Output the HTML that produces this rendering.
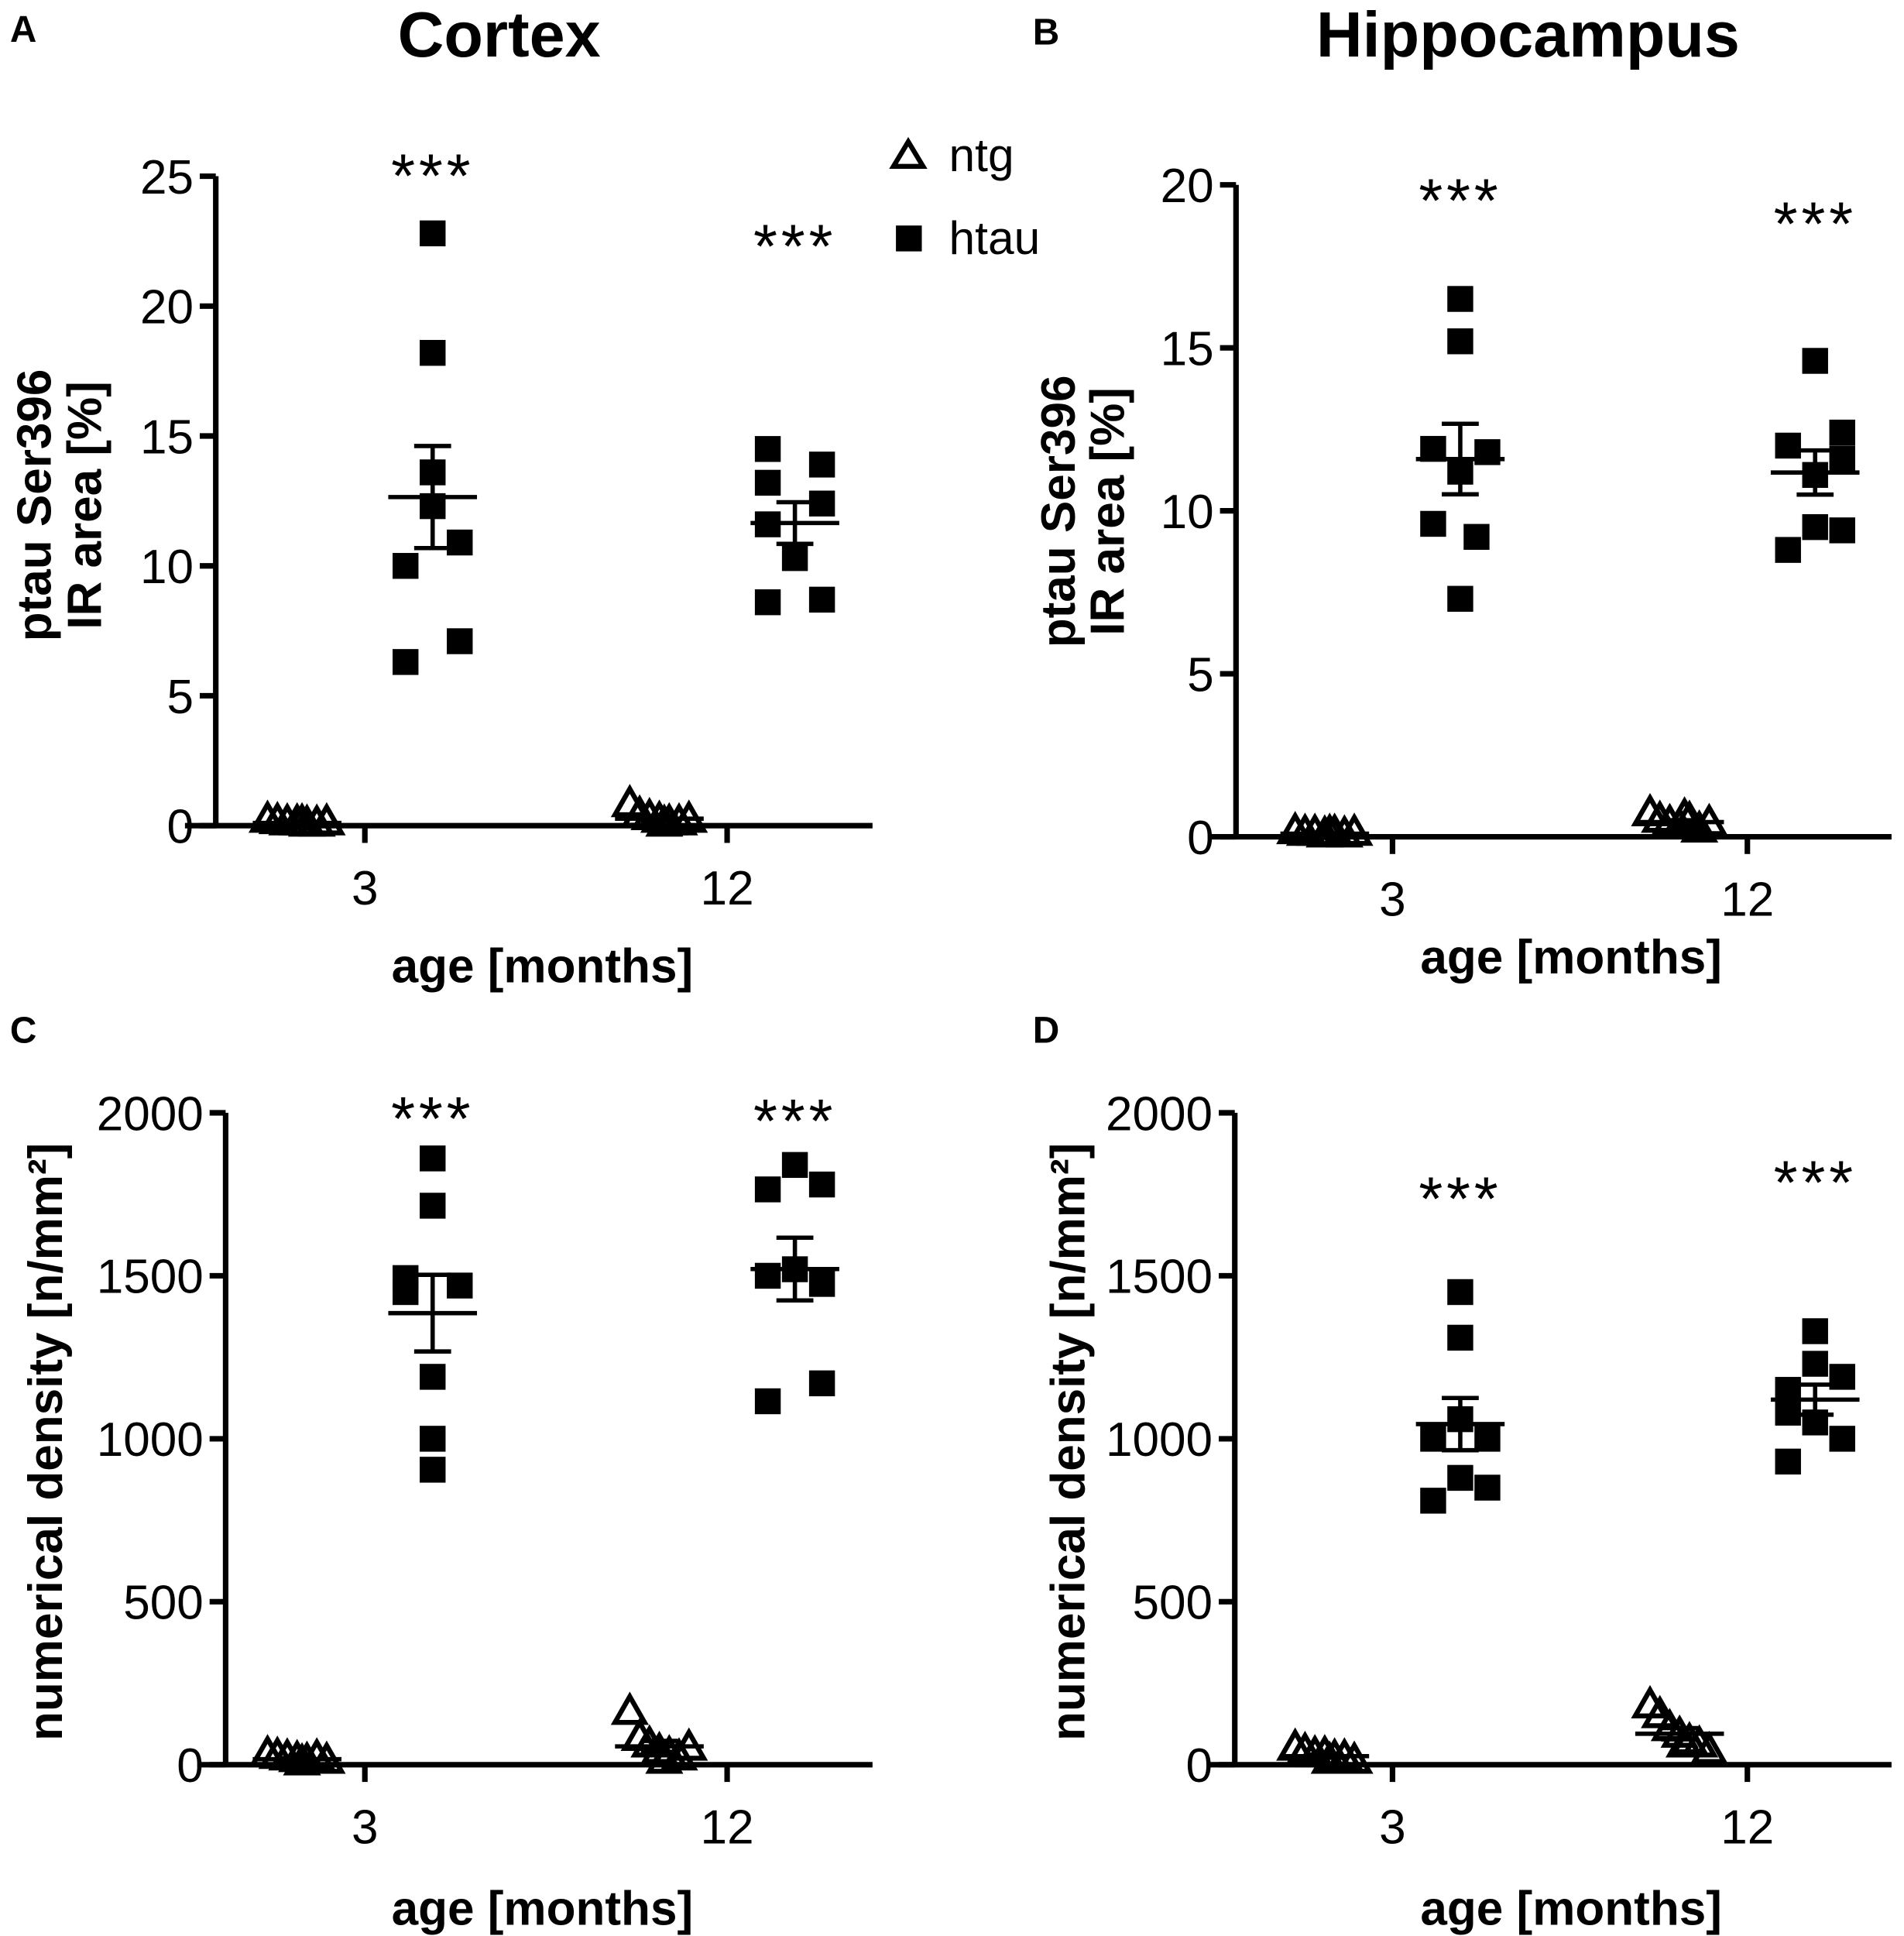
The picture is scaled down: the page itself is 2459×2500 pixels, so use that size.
<!DOCTYPE html>
<html><head><meta charset="utf-8"><style>
html,body{margin:0;padding:0;background:#fff}
svg{display:block}
text{font-family:"Liberation Sans",Arial,sans-serif;fill:#000}
</style></head><body>
<svg id="fig" width="2459" height="2500" viewBox="0 0 1545 1571" xmlns="http://www.w3.org/2000/svg">
<text x="8" y="34" font-size="30" font-weight="bold">A</text>
<text x="838" y="36" font-size="30" font-weight="bold">B</text>
<text x="8" y="846" font-size="30" font-weight="bold">C</text>
<text x="838" y="846" font-size="30" font-weight="bold">D</text>
<text x="405" y="46" font-size="52" font-weight="bold" text-anchor="middle">Cortex</text>
<text x="1240" y="46" font-size="52" font-weight="bold" text-anchor="middle">Hippocampus</text>
<g>
<path d="M737,115 L749,135 L725,135 Z" fill="none" stroke="#000" stroke-width="4"/>
<text x="770" y="139" font-size="38">ntg</text>
<rect x="727" y="183" width="21" height="21" fill="#000"/>
<text x="770" y="206" font-size="38">htau</text>
</g>
</svg>
<script>
// Panel A data (ptau Ser396 IR area %, cortex)
const categories = ["3", "12"];
const aHtau3 = [22.8, 18.2, 13.6, 12.3, 10.9, 10.0, 7.1, 6.3];
const aHtau12 = [14.5, 13.9, 13.2, 12.4, 11.6, 10.3, 8.6, 8.7];
const aNtg3 = [0.2, 0.15, 0.1, 0.1, 0.05, 0.05, 0.1, 0.1];
const aNtg12 = [0.8, 0.4, 0.3, 0.2, 0.1, 0.1, 0.2, 0.05];
const aTicks = [0, 5, 10, 15, 20, 25];
// Panel B data (hippocampus)
const bHtau3 = [16.5, 15.2, 11.9, 11.8, 11.2, 9.6, 9.2, 7.3];
const bHtau12 = [14.6, 12.4, 12.0, 11.6, 11.1, 9.5, 9.4, 8.8];
const bNtg3 = [0.15, 0.1, 0.1, 0.05, 0.1, 0.05, 0.1, 0.1];
const bNtg12 = [0.7, 0.5, 0.4, 0.3, 0.5, 0.2, 0.4, 0.6];
const bTicks = [0, 5, 10, 15, 20];
// Panel C data (numerical density, cortex)
const cHtau3 = [1860, 1715, 1493, 1470, 1450, 1190, 1000, 905];
const cHtau12 = [1840, 1765, 1780, 1520, 1500, 1475, 1115, 1170];
const cNtg3 = [30, 25, 20, 15, 10, 20, 10, 5];
const cNtg12 = [160, 80, 60, 40, 30, 20, 50, 10];
const cTicks = [0, 500, 1000, 1500, 2000];
// Panel D data (numerical density, hippocampus)
const dHtau3 = [1450, 1310, 1060, 1000, 1000, 880, 850, 810];
const dHtau12 = [1330, 1230, 1190, 1150, 1080, 1050, 1000, 930];
const dNtg3 = [50, 40, 30, 30, 20, 20, 10, 10];
const dNtg12 = [180, 150, 110, 90, 70, 60, 40, 60];
const dTicks = [0, 500, 1000, 1500, 2000];

const NS = "http://www.w3.org/2000/svg";
const svg = document.getElementById("fig");
function mk(tag, attrs, parent) {
  const e = document.createElementNS(NS, tag);
  for (const k in attrs) e.setAttribute(k, attrs[k]);
  (parent || svg).appendChild(e);
  return e;
}
const triCols = [-1.2, -0.8, -0.4, 0, 0.4, 0.8, 1.2, 0.2];
function meanSem(a) {
  const m = a.reduce((s, v) => s + v, 0) / a.length;
  const sd = Math.sqrt(a.reduce((s, v) => s + (v - m) * (v - m), 0) / (a.length - 1));
  return [m, sd / Math.sqrt(a.length)];
}
function panel(p) {
  const g = mk("g", {});
  
  
  const y = v => p.y0 - (v / p.ymax) * (p.y0 - p.yTop);
  const ax = mk("path", {d: `M${p.ax},${p.yTop} L${p.ax},${p.y0} M${p.xStart},${p.y0} L${p.xEnd},${p.y0}`, stroke: "#000", "stroke-width": 4.5, fill: "none"}, g);
  
  
  p.ticks.forEach(t => {
    const tl = mk("line", {x1: p.ax - 13, x2: p.ax, y1: y(t), y2: y(t), stroke: "#000", "stroke-width": 4.5}, g);
    
    
    const tx = mk("text", {x: p.ax - 18, y: y(t) + 14, "font-size": 39, "text-anchor": "end"}, g);
    tx.textContent = t;
    
    
  });
  categories.forEach((c, i) => {
    const cx = p.cx[i];
    const tl = mk("line", {x1: cx, x2: cx, y1: p.y0, y2: p.y0 + 14, stroke: "#000", "stroke-width": 4.5}, g);
    
    
    const tx = mk("text", {x: cx, y: p.y0 + 64, "font-size": 39, "text-anchor": "middle"}, g);
    tx.textContent = c;
    
    
    const groups = [[p.ntg[i], cx - p.off, "ntg", triCols], [p.htau[i], cx + p.off, "htau", p.cols[i]]];
    groups.forEach(([arr, gx, kind, cols]) => {
      arr.forEach((v, j) => {
        if (kind === "htau") {
          const r = mk("rect", {x: gx + cols[j] * 22 - 10.5, y: y(v) - 10.5, width: 21, height: 21, fill: "#000"}, g);
          
          
        } else {
          const px = gx + cols[j] * 20, py = y(v);
          const t = mk("path", {d: `M${px},${py - 13} L${px + 12},${py + 8} L${px - 12},${py + 8} Z`, fill: "none", stroke: "#000", "stroke-width": 4}, g);
          
          
        }
      });
      const [m, se] = meanSem(arr);
      const ml = mk("path", {d: `M${gx - 36},${y(m)} L${gx + 36},${y(m)} M${gx},${y(m + se)} L${gx},${y(m - se)} M${gx - 15},${y(m + se)} L${gx + 15},${y(m + se)} M${gx - 15},${y(m - se)} L${gx + 15},${y(m - se)}`, stroke: "#000", "stroke-width": 3.5, fill: "none"}, g);
      
      
    });
    const st = mk("text", {x: cx + p.off, y: p.star[i], "font-size": 50, "letter-spacing": 3, "text-anchor": "middle"}, g);
    st.textContent = "***";
    
    
  });
  const xt = mk("text", {x: p.xtX, y: p.xtY, "font-size": 39, "font-weight": "bold", "text-anchor": "middle"}, g);
  xt.textContent = "age [months]";
  
  
  p.ytitle.forEach((line, k) => {
    const yt = mk("text", {x: 0, y: 0, "font-size": 39, "font-weight": "bold", "text-anchor": "middle", transform: `translate(${p.ytX[k]},${p.ytY}) rotate(-90)`}, g);
    yt.textContent = line;
    
    
  });
}
panel({name: "panel-a", ax: 175, yTop: 143, y0: 670, ymax: 25, xStart: 150, xEnd: 708, cx: [296, 590], off: 55,
  htau: [aHtau3, aHtau12], ntg: [aNtg3, aNtg12], ticks: aTicks, star: [160, 217],
  cols: [[0, 0, 0, 0, 1, -1, 1, -1], [-1, 1, -1, 1, -1, 0, -1, 1]],
  xtX: 440, xtY: 797, ytitle: ["ptau Ser396", "IR area [%]"], ytX: [41, 82], ytY: 410});
panel({name: "panel-b", ax: 1003, yTop: 150, y0: 679, ymax: 20, xStart: 980, xEnd: 1535, cx: [1130, 1418], off: 55,
  htau: [bHtau3, bHtau12], ntg: [bNtg3, bNtg12], ticks: bTicks, star: [180, 199],
  cols: [[0, 0, -1, 1, 0, -1, 0.6, 0], [0, 1, -1, 1, 0, 0, 1, -1]],
  xtX: 1275, xtY: 790, ytitle: ["ptau Ser396", "IR area [%]"], ytX: [872, 912], ytY: 415});
panel({name: "panel-c", ax: 183, yTop: 903, y0: 1432, ymax: 2000, xStart: 160, xEnd: 708, cx: [296, 590], off: 55,
  htau: [cHtau3, cHtau12], ntg: [cNtg3, cNtg12], ticks: cTicks, star: [925, 927],
  cols: [[0, 0, -1, 1, -1, 0, 0, 0], [0, -1, 1, 0, -1, 1, -1, 1]],
  xtX: 440, xtY: 1562, ytitle: ["numerical density [n/mm²]"], ytX: [50], ytY: 1170});
panel({name: "panel-d", ax: 1002, yTop: 903, y0: 1432, ymax: 2000, xStart: 980, xEnd: 1535, cx: [1130, 1418], off: 55,
  htau: [dHtau3, dHtau12], ntg: [dNtg3, dNtg12], ticks: dTicks, star: [990, 977],
  cols: [[0, 0, 0, -1, 1, 0, 1, -1], [0, 0, 1, -1, -1, 0, 1, -1]],
  xtX: 1275, xtY: 1562, ytitle: ["numerical density [n/mm²]"], ytX: [880], ytY: 1170});
</script>
</body></html>
